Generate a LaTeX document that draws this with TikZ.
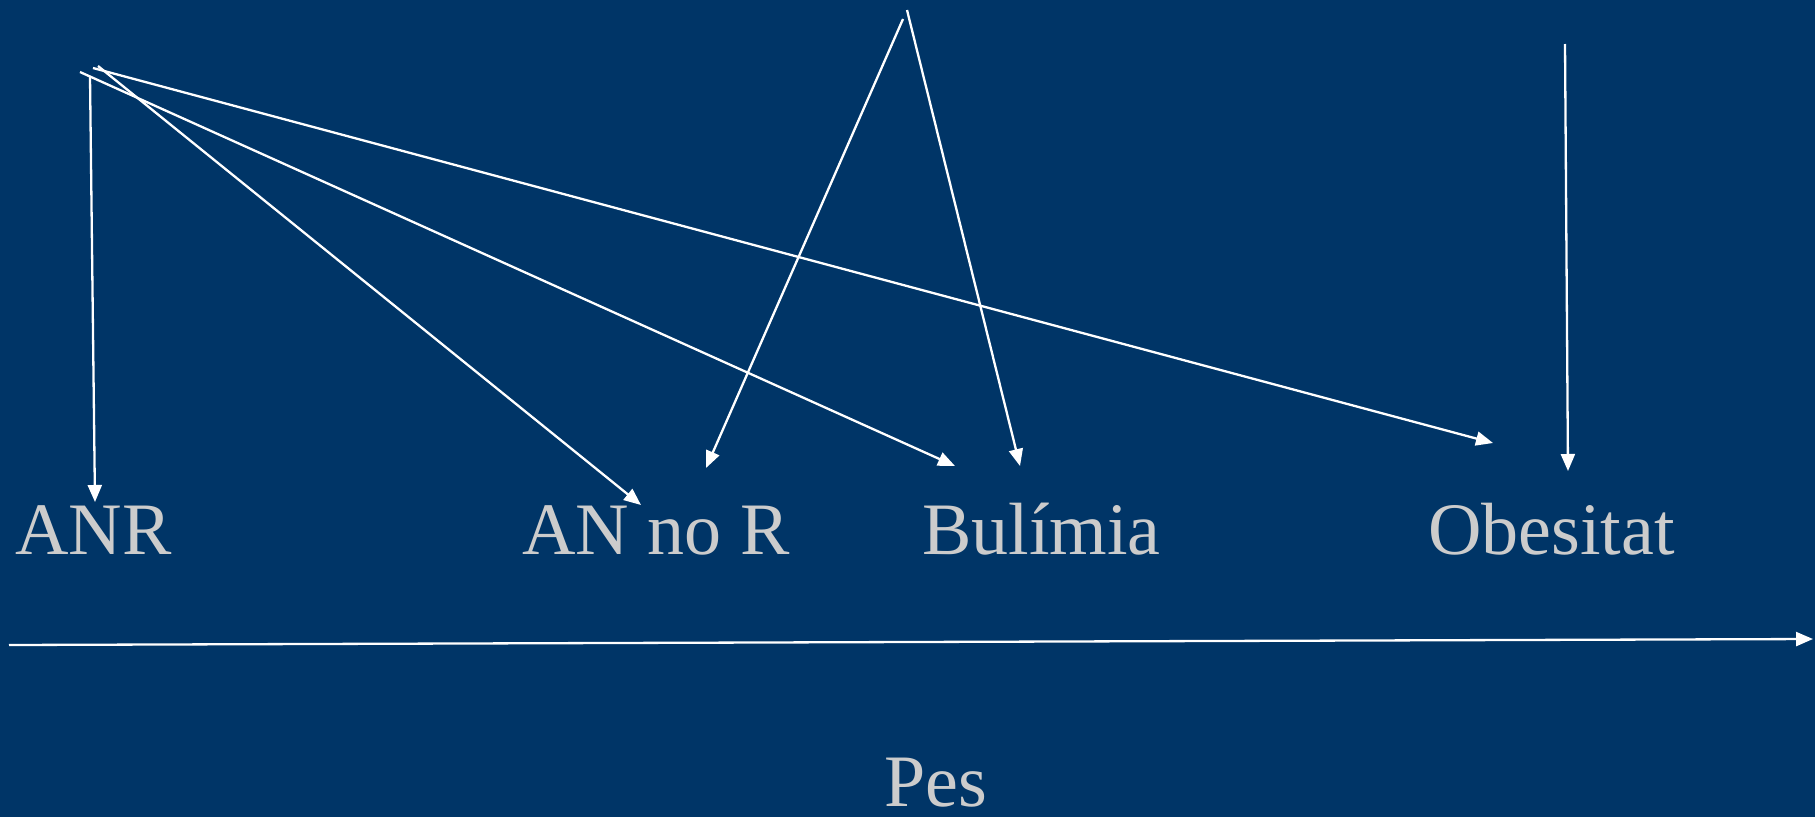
\documentclass[tikz,border=0pt]{standalone}
\usepackage{fontspec}
\setmainfont{Liberation Serif}
\usetikzlibrary{arrows.meta}
\definecolor{bg}{RGB}{0,53,103}
\definecolor{txt}{RGB}{204,204,204}
\begin{document}
\begin{tikzpicture}[x=1pt,y=-1pt,
  lbl/.style={anchor=base west,inner sep=0pt,text=txt,font=\fontsize{74}{80}\selectfont},
  conn/.style={draw=white,line width=2.3pt,-{Triangle[length=17pt,width=14pt]}}]
\fill[bg] (0,0) rectangle (1815,817);
\useasboundingbox (0,0) rectangle (1815,817);
\node[lbl] (anr) at (15,554) {ANR};
\node[lbl] (annor) at (522,554) {AN no R};
\node[lbl] (bul) at (922,554) {Bulímia};
\node[lbl] (obe) at (1428,554) {Obesitat};
\node[lbl] (pes) at (884,806) {Pes};
% start points
\coordinate (s1) at (90,76);
\coordinate (s2) at (98,66);
\coordinate (s3) at (80,72);
\coordinate (s4) at (93,68);
\coordinate (s5) at (903,19);
\coordinate (s6) at (907,10);
\coordinate (s7) at (1565,44);
% end points
\coordinate (e1) at (95,502);
\coordinate (e2) at (641,505);
\coordinate (e3) at (955,466);
\coordinate (e4) at (1493,443);
\coordinate (e5) at (706,468);
\coordinate (e6) at (1020,466);
\coordinate (e7) at (1568,471);
\coordinate (a0) at (9,645);
\coordinate (a1) at (1813,639);
\draw[conn] (s1) -- (e1);
\draw[conn] (s2) -- (e2);
\draw[conn] (s3) -- (e3);
\draw[conn] (s4) -- (e4);
\draw[conn] (s5) -- (e5);
\draw[conn] (s6) -- (e6);
\draw[conn] (s7) -- (e7);
\draw[conn] (a0) -- (a1);
\end{tikzpicture}
\end{document}
